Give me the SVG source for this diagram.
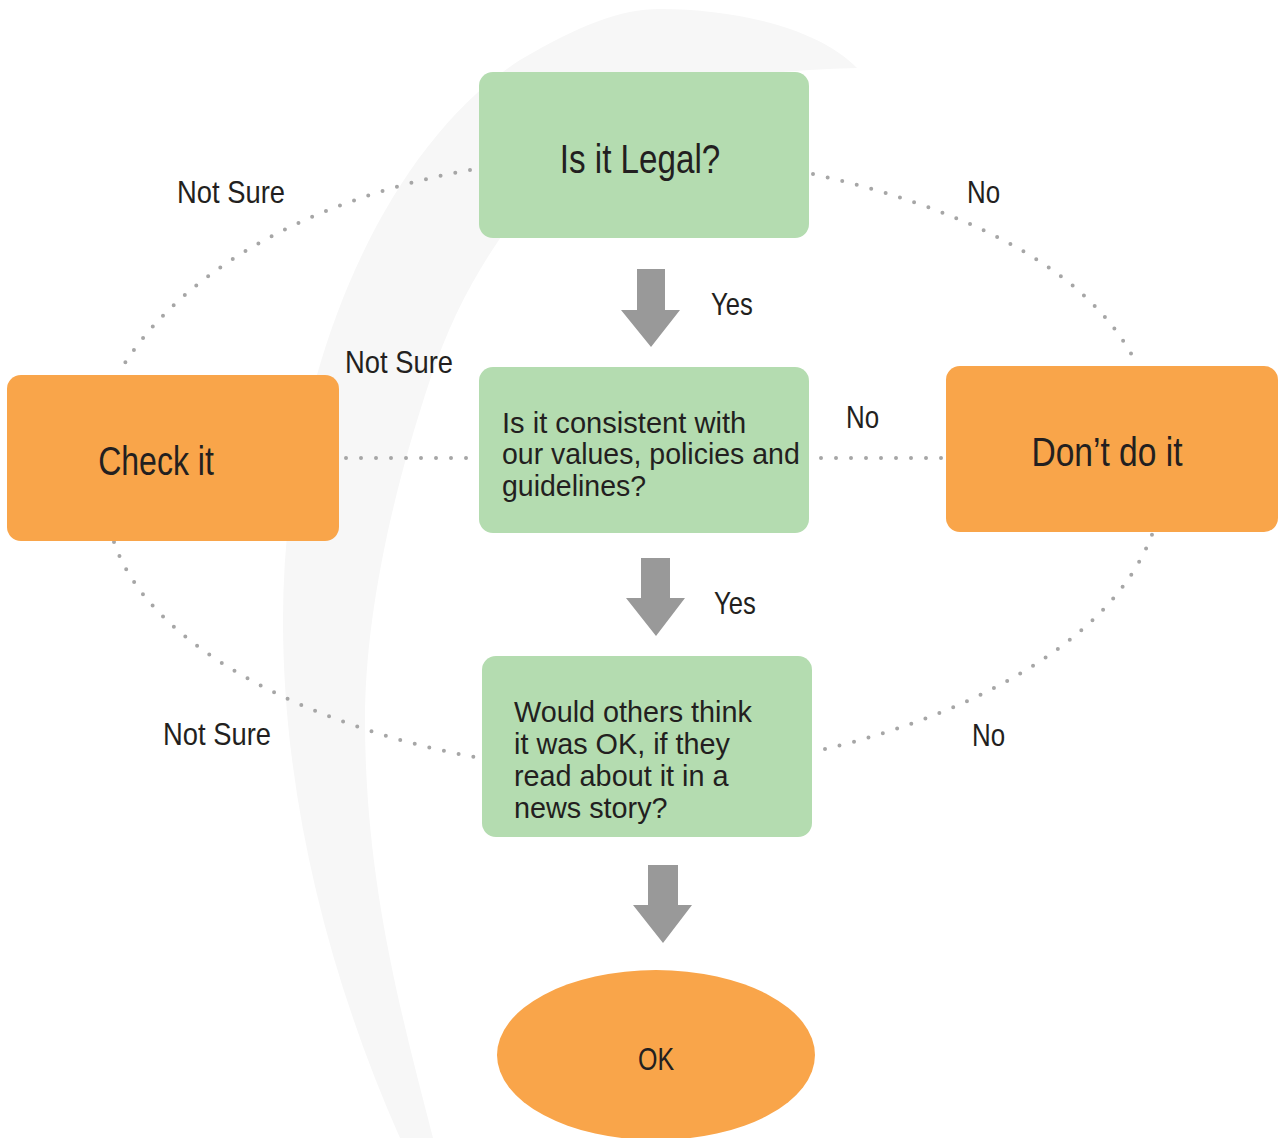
<svg xmlns="http://www.w3.org/2000/svg" width="1282" height="1138" viewBox="0 0 1282 1138">
<style>
  .t{font-family:'Liberation Sans',Arial,sans-serif;fill:#231f20}
  .green{fill:#b4dcb0}
  .orange{fill:#f9a54a}
  .dot{fill:none;stroke:#a6a6a6;stroke-width:4;stroke-linecap:round;stroke-dasharray:0 15}
  .arrow{fill:#999999}
  .big{font-size:40px}
  .body{font-size:30px}
  .lbl{font-size:32px}
</style>
<rect width="1282" height="1138" fill="#ffffff"/>
<path id="crescent" fill="#f7f7f7" d="M 400,1138 C 330,980 283,800 283,620 C 283,380 380,150 520,60 C 580,25 620,9 660,9 C 740,9 820,30 857,68 C 780,70 700,78 640,100 C 540,170 470,260 430,380 C 390,500 365,620 365,720 C 365,880 400,1010 433,1138 Z"/>
<g id="connectors">
  <path class="dot" d="M 470,170 C 330,195 190,260 123,366"/>
  <path class="dot" d="M 813,174 C 950,205 1080,260 1133,357"/>
  <path class="dot" d="M 346,458 L 476,458"/>
  <path class="dot" d="M 821,458 L 943,458"/>
  <path class="dot" d="M 114,542 C 150,650 320,730 480,758"/>
  <path class="dot" d="M 825,749 C 950,720 1110,650 1153,532"/>
  <polygon class="arrow" points="637,269 665,269 665,310 680,310 651,347 621,310 637,310"/>
  <polygon class="arrow" points="641,558 670,558 670,598 685,598 656,636 626,598 641,598"/>
  <polygon class="arrow" points="648,865 678,865 678,905 692,905 663,943 633,905 648,905"/>
  <text class="t lbl" transform="translate(711,315) scale(0.8,1)">Yes</text>
  <text class="t lbl" transform="translate(714,614) scale(0.8,1)">Yes</text>
  <text class="t lbl" transform="translate(177,203) scale(0.855,1)">Not Sure</text>
  <text class="t lbl" transform="translate(345,373) scale(0.855,1)">Not Sure</text>
  <text class="t lbl" transform="translate(163,745) scale(0.855,1)">Not Sure</text>
  <text class="t lbl" transform="translate(967,203) scale(0.81,1)">No</text>
  <text class="t lbl" transform="translate(846,428) scale(0.81,1)">No</text>
  <text class="t lbl" transform="translate(972,746) scale(0.81,1)">No</text>
</g>
<g id="legal">
  <rect class="green" x="479" y="72" width="330" height="166" rx="14"/>
  <text class="t big" text-anchor="middle" transform="translate(640,173) scale(0.83,1)">Is it Legal?</text>
</g>
<g id="consistent">
  <rect class="green" x="479" y="367" width="330" height="166" rx="14"/>
  <text class="t body" transform="translate(502,433) scale(0.97,1)">Is it consistent with</text>
  <text class="t body" transform="translate(502,464) scale(0.95,1)">our values, policies and</text>
  <text class="t body" transform="translate(502,496) scale(0.95,1)">guidelines?</text>
</g>
<g id="others">
  <rect class="green" x="482" y="656" width="330" height="181" rx="14"/>
  <text class="t body" transform="translate(514,722) scale(0.96,1)">Would others think</text>
  <text class="t body" transform="translate(514,754) scale(0.96,1)">it was OK, if they</text>
  <text class="t body" transform="translate(514,786) scale(0.96,1)">read about it in a</text>
  <text class="t body" transform="translate(514,818) scale(0.96,1)">news story?</text>
</g>
<g id="check">
  <rect class="orange" x="7" y="375" width="332" height="166" rx="14"/>
  <text class="t big" text-anchor="middle" transform="translate(156,475) scale(0.8,1)">Check it</text>
</g>
<g id="dont">
  <rect class="orange" x="946" y="366" width="332" height="166" rx="14"/>
  <text class="t big" text-anchor="middle" transform="translate(1107,466) scale(0.84,1)">Don’t do it</text>
</g>
<g id="ok">
  <ellipse class="orange" cx="656" cy="1055" rx="159" ry="85"/>
  <text class="t lbl" text-anchor="middle" transform="translate(656,1070) scale(0.78,1)">OK</text>
</g>
</svg>
